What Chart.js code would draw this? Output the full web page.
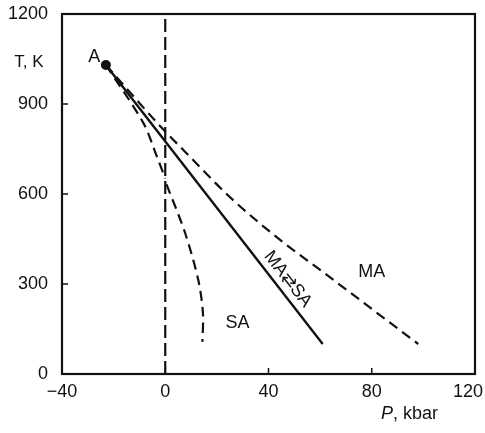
<!DOCTYPE html>
<html>
<head>
<meta charset="utf-8">
<script src="https://cdn.jsdelivr.net/npm/chart.js@4"></script>
<style>
  body { margin: 0; background: #fff; }
  canvas { display: block; }
</style>
</head>
<body>
<canvas id="phaseChart" width="485" height="433"></canvas>
<script>
// axis ticks
var pTicks = [-40, 0, 40, 80, 120];
var tTicks = [0, 300, 600, 900, 1200];

// point A (critical point)
var pointA = [{ x: -23, y: 1030 }];

// MA <-> SA equilibrium line
var eqP = [-23, 61];
var eqT = [1030, 100];

// upper dashed boundary (MA side)
var upperP = [-23, 0, 7, 25, 44.5, 60, 98];
var upperT = [1030, 808, 747, 590, 447, 347, 100];

// lower dashed boundary, part above the P = 0 line
var lowerTopP = [-23, -8.5, -3.2, 0];
var lowerTopT = [1030, 837, 724, 652];

// lower dashed boundary, part below
var lowerBotP = [0.5, 7.7, 12.8, 14.6, 14.4];
var lowerBotT = [632, 470, 313, 203, 107];

// P = 0 line
var zeroP = [0, 0];
var zeroT = [0, 1200];

// region labels [text, P, T, angle]
var labels = [
  ['A', -27.5, 1058, 0],
  ['MA', 80, 340, 0],
  ['SA', 28, 170, 0],
  ['MA\u21c4SA', 47.5, 316, 52]
];

function pts(xs, ys) {
  return xs.map(function (x, i) { return { x: x, y: ys[i] }; });
}

function fmt(v) {
  return v < 0 ? '\u2212' + Math.abs(v) : String(v);
}

var font = '"Liberation Sans", Arial, sans-serif';
var ink = '#111';

var framePlugin = {
  id: 'frame',
  afterDraw: function (chart) {
    var ctx = chart.ctx;
    var a = chart.chartArea;
    var xs = chart.scales.x;
    var ys = chart.scales.y;
    ctx.save();
    ctx.strokeStyle = ink;
    ctx.lineWidth = 2.2;
    ctx.strokeRect(a.left, a.top, a.right - a.left, a.bottom - a.top);
    // inward ticks
    ctx.lineWidth = 1.5;
    ctx.beginPath();
    pTicks.forEach(function (v) {
      var px = xs.getPixelForValue(v);
      ctx.moveTo(px, a.bottom);
      ctx.lineTo(px, a.bottom - 6);
    });
    tTicks.forEach(function (v) {
      var py = ys.getPixelForValue(v);
      ctx.moveTo(a.left, py);
      ctx.lineTo(a.left + 6, py);
    });
    ctx.stroke();

    ctx.fillStyle = ink;
    ctx.textBaseline = 'middle';
    ctx.textAlign = 'center';

    // P tick labels, kept inside the canvas
    ctx.font = '18px ' + font;
    pTicks.forEach(function (v) {
      var s = fmt(v);
      var half = ctx.measureText(s).width / 2;
      var px = Math.min(xs.getPixelForValue(v), chart.width - 2 - half);
      ctx.fillText(s, px, a.bottom + 18);
    });

    labels.forEach(function (l) {
      ctx.save();
      ctx.translate(xs.getPixelForValue(l[1]), ys.getPixelForValue(l[2]));
      ctx.rotate(l[3] * Math.PI / 180);
      ctx.fillText(l[0], 0, 0);
      ctx.restore();
    });

    // axis titles
    ctx.font = '17px ' + font;
    ctx.fillText('T, K', 29, 62);
    ctx.textAlign = 'left';
    ctx.font = 'italic 18px ' + font;
    ctx.fillText('P', 381, 414);
    var w = ctx.measureText('P').width;
    ctx.font = '18px ' + font;
    ctx.fillText(', kbar', 381 + w, 414);
    ctx.restore();
  }
};

var dashed = { borderDash: [10, 6], borderWidth: 2.2 };

new Chart(document.getElementById('phaseChart'), {
  type: 'scatter',
  data: {
    datasets: [
      { data: pts(zeroP, zeroT), borderDash: [13, 5], borderWidth: 2.2 },
      Object.assign({ data: pts(upperP, upperT), cubicInterpolationMode: 'monotone' }, dashed),
      Object.assign({ data: pts(lowerTopP, lowerTopT), tension: 0.3 }, dashed),
      Object.assign({ data: pts(lowerBotP, lowerBotT), tension: 0.3 }, dashed),
      { data: pts(eqP, eqT), borderWidth: 2.4 },
      { data: pointA, showLine: false, pointRadius: 5, pointBackgroundColor: ink, pointBorderWidth: 0 }
    ].map(function (d) {
      return Object.assign({
        showLine: true,
        borderColor: ink,
        pointRadius: 0,
        fill: false
      }, d);
    })
  },
  options: {
    responsive: false,
    animation: false,
    layout: { padding: { top: 14, right: 10, left: 0, bottom: 0 } },
    plugins: { legend: { display: false }, tooltip: { enabled: false } },
    scales: {
      x: {
        type: 'linear',
        min: -40, max: 120,
        afterBuildTicks: function (s) { s.ticks = pTicks.map(function (v) { return { value: v }; }); },
        afterFit: function (s) { s.height = 59; s.paddingLeft = 0; s.paddingRight = 0; },
        grid: { display: false },
        border: { display: false },
        ticks: { display: false }
      },
      y: {
        type: 'linear',
        min: 0, max: 1200,
        afterBuildTicks: function (s) { s.ticks = tTicks.map(function (v) { return { value: v }; }); },
        afterFit: function (s) { s.width = 62; s.paddingTop = 0; s.paddingBottom = 0; },
        grid: { display: false },
        border: { display: false },
        ticks: {
          color: ink, font: { family: font, size: 18 }, padding: 6,
          callback: function (v) { return fmt(v); }
        }
      }
    }
  },
  plugins: [framePlugin]
});
</script>
</body>
</html>
